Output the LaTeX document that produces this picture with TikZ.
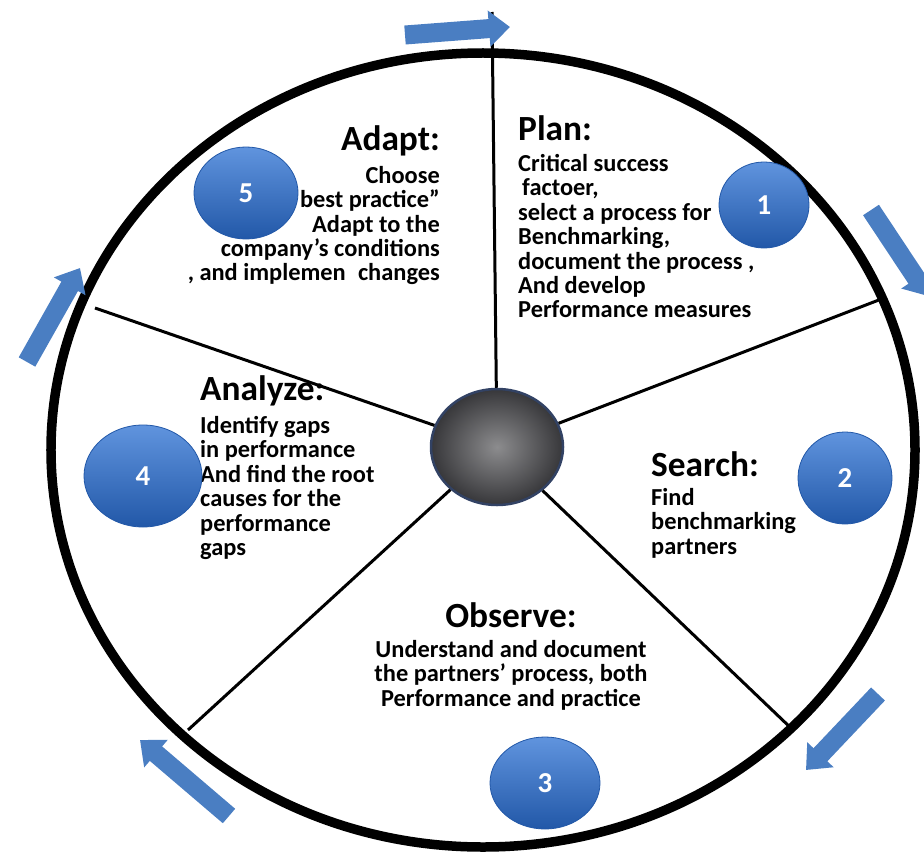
\documentclass[tikz,border=0pt]{standalone}
\usepackage{fontspec}
\setmainfont{Carlito}
\usepackage{tikz}
\usetikzlibrary{arrows.meta,positioning,shapes.geometric}

\definecolor{stepblue}{RGB}{74,126,194}
\definecolor{balltop}{RGB}{96,148,222}
\definecolor{ballbot}{RGB}{34,88,168}
\definecolor{hubin}{RGB}{140,140,142}
\definecolor{hubout}{RGB}{55,55,58}
\definecolor{hubrim}{RGB}{50,66,100}

\begin{document}
\begin{tikzpicture}[
  x=1bp, y=-1bp,
  head/.style={inner sep=0pt, font=\fontsize{35.5}{36}\selectfont\bfseries},
  body/.style={inner sep=0pt, font=\fontsize{24.5}{24.5}\selectfont\bfseries},
  ball/.style={ellipse, inner sep=0pt, top color=balltop, bottom color=ballbot, draw=ballbot, line width=0.8bp, text=white, font=\fontsize{29}{29}\selectfont\bfseries},
  hubnode/.style={ellipse, inner sep=0pt, minimum width=132bp, minimum height=116bp, inner color=hubin, outer color=hubout, draw=hubrim, line width=2.5bp},
  spoke/.style={line width=3bp, black},
  rimline/.style={line width=9.5bp, black},
  flow/.style={line width=19bp, stepblue, -{Triangle[length=21bp, width=35bp]}}
]
  \useasboundingbox (0,0) rectangle (924,856);

  % Spokes
  \node[hubnode] (hub) at (497,447) {};
  \coordinate (sTop) at (492,12);
  \coordinate (sRight) at (884,298);
  \coordinate (sLowR) at (793,730);
  \coordinate (sLowL) at (188,730);
  \coordinate (sLeft) at (95,308);
  \draw[spoke] (hub) -- (sTop);
  \draw[spoke] (hub) -- (sRight);
  \draw[spoke] (hub) -- (sLowR);
  \draw[spoke] (hub) -- (sLowL);
  \draw[spoke] (hub) -- (sLeft);

  % Outer ring
  \draw[rimline] (483,450) ellipse [x radius=432bp, y radius=397bp];

  % Texts
  \node[head, anchor=base west] (planhd) at (518,140) {Plan:};
  \node[body, anchor=north west, align=left] (plantx) at (518,154)
    {Critical success\\\hspace{4bp}factoer,\\select a process for\\Benchmarking,\\document the process ,\\And develop\\Performance measures};
  \node[head, anchor=base west] (srchhd) at (651,476) {Search:};
  \node[body, anchor=north west, align=left] (srchtx) at (651,488)
    {Find\\benchmarking\\partners};
  \node[head, anchor=base] (obshd) at (511,627) {Observe:};
  \node[body, anchor=north, align=center] (obstx) at (511,640)
    {Understand and document\\the partners’ process, both\\Performance and practice};
  \node[head, anchor=base west] (anlhd) at (200,400) {Analyze:};
  \node[body, anchor=north west, align=left] (anltx) at (200,416)
    {Identify gaps\\in performance\\And find the root\\causes for the\\performance\\gaps};
  \node[head, anchor=base east] (adphd) at (440,150) {Adapt:};
  \node[body, anchor=north east, align=right] (adptx) at (440,166)
    {Choose\\“best practice”\\Adapt to the\\company’s conditions\\, and implemen\hspace{0.5em}changes};

  % Numbered balls
  \node[ball, minimum width=90bp, minimum height=86bp] (b1) at (764,205) {1};
  \node[ball, minimum width=94bp, minimum height=92bp] (b2) at (845,478) {2};
  \node[ball, minimum width=110bp, minimum height=92bp] (b3) at (545,783) {3};
  \node[ball, minimum width=118bp, minimum height=102bp] (b4) at (143,476) {4};
  \node[ball, minimum width=104bp, minimum height=92bp] (b5) at (246,193) {5};

  % Cycle arrows
  \coordinate (a1s) at (405,35);  \coordinate (a1e) at (510,27);
  \coordinate (a2s) at (871,210); \coordinate (a2e) at (928,296);
  \coordinate (a3s) at (878,694); \coordinate (a3e) at (806,770);
  \coordinate (a4s) at (229,816); \coordinate (a4e) at (140,740);
  \coordinate (a5s) at (27,362);  \coordinate (a5e) at (80,268);
  \draw[flow] (a1s) -- (a1e);
  \draw[flow] (a2s) -- (a2e);
  \draw[flow] (a3s) -- (a3e);
  \draw[flow] (a4s) -- (a4e);
  \draw[flow] (a5s) -- (a5e);
\end{tikzpicture}
\end{document}
